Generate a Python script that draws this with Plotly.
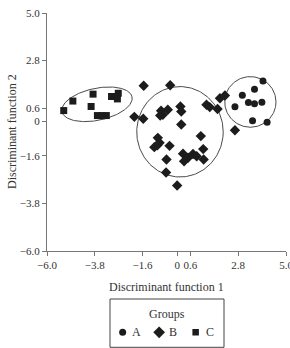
import numpy as np
import plotly.graph_objects as go

# ---- data ----
groupA_x = [3.94, 3.55, 2.99, 3.27, 3.55, 3.89, 2.65, 3.46, 4.13]
groupA_y = [1.86, 1.48, 1.20, 0.86, 0.80, 0.87, 0.67, 0.02, -0.05]

groupB_x = [-1.55, -0.33, -1.98, -1.57, -0.75, -0.44, -0.67, -0.79, 0.14, 0.18,
            0.18, 1.34, 1.49, 1.85, 1.96, 2.19, 2.65, 1.08, -0.90, -0.82,
            -1.06, -0.92, -0.36, -0.50, 0.26, 0.49, 0.72, 0.89, 1.19, 1.21,
            0.31, -0.52, -0.01]
groupB_y = [1.64, 1.66, 0.20, 0.11, 0.48, 0.53, 0.30, 0.26, 0.68, 0.45,
            -0.15, 0.76, 0.65, 0.56, 1.06, 1.19, -0.42, -0.69, -0.77, -1.00,
            -1.20, -1.11, -1.14, -1.77, -1.50, -1.69, -1.52, -1.62, -1.29, -1.77,
            -1.85, -2.37, -2.97]

groupC_x = [-5.23, -4.81, -3.88, -3.97, -3.68, -3.48, -3.27, -3.03, -2.72, -2.76]
groupC_y = [0.49, 0.93, 1.25, 0.68, 0.26, 0.26, 0.26, 1.14, 1.29, 1.03]

group_names = ["A", "B", "C"]
legend_title = "Groups"
x_title = "Discriminant function 1"
y_title = "Discriminant function 2"

# ellipses drawn around groups: centre x, centre y, semi-axis x, semi-axis y, tilt (deg)
ell_cx = [3.36, 0.12, -3.70]
ell_cy = [0.89, -0.49, 0.78]
ell_ax = [1.18, 1.99, 1.65]
ell_ay = [1.17, 2.09, 0.74]
ell_rot = [0, 0, 12]

tick_vals = [-6.0, -3.8, -1.6, 0, 0.6, 2.8, 5.0]
tick_text = ["\u22126.0", "\u22123.8", "\u22121.6", "0", "0.6", "2.8", "5.0"]

FONT = "Liberation Serif, Times New Roman, serif"
MK = "#1c1c1c"
TXT = "#333333"

W, H = 290, 348
ML, MR, MT, MB = 47, 4, 13, 0
PW, PH = W - ML - MR, H - MT - MB
AXIS_BOTTOM = 251  # pixel row of the x axis


def px_x(p):  # pixel x -> paper fraction
    return (p - ML) / PW


def px_y(p):  # pixel y -> paper fraction
    return (H - MB - p) / PH


fig = go.Figure()

# ellipses
t = np.linspace(0, 2 * np.pi, 200)
for cx, cy, ax, ay, rot in zip(ell_cx, ell_cy, ell_ax, ell_ay, ell_rot):
    r = np.deg2rad(rot)
    ex = cx + ax * np.cos(t) * np.cos(r) - ay * np.sin(t) * np.sin(r)
    ey = cy + ax * np.cos(t) * np.sin(r) + ay * np.sin(t) * np.cos(r)
    fig.add_trace(go.Scatter(x=ex, y=ey, mode="lines",
                             line=dict(color="#4a4a4a", width=1),
                             showlegend=False, hoverinfo="skip"))

symbols = ["circle", "diamond", "square"]
sizes = [7, 8, 7]
leg_sizes = [7, 9, 6.5]
annotations = []
for name, xs, ys, sym, sz, lsz in zip(group_names,
                                      [groupA_x, groupB_x, groupC_x],
                                      [groupA_y, groupB_y, groupC_y],
                                      symbols, sizes, leg_sizes):
    fig.add_trace(go.Scatter(x=xs, y=ys, mode="markers", name=name,
                             marker=dict(symbol=sym, size=sz, color=MK),
                             showlegend=False))
    # legend key (drawn on a small helper axis pair)
    fig.add_trace(go.Scatter(x=[name], y=[legend_title], mode="markers",
                             marker=dict(symbol=sym, size=lsz, color=MK),
                             xaxis="x2", yaxis="y2", showlegend=False,
                             hoverinfo="skip"))
    annotations.append(dict(text=name, xref="x2", yref="y2", x=name, y=legend_title,
                            xshift=14, xanchor="center", yanchor="middle",
                            showarrow=False,
                            font=dict(family=FONT, size=12, color=TXT)))

annotations += [
    dict(text=legend_title, xref="paper", yref="paper",
         x=px_x(167), y=px_y(314.3), xanchor="center", yanchor="middle",
         showarrow=False, font=dict(family=FONT, size=12, color=TXT)),
    dict(text=x_title, xref="paper", yref="paper",
         x=0.5, y=px_y(286.7), xanchor="center", yanchor="middle",
         showarrow=False, font=dict(family=FONT, size=12, color=TXT)),
    dict(text=y_title, xref="paper", yref="paper", textangle=-90,
         x=px_x(12), y=px_y(132), xanchor="center", yanchor="middle",
         showarrow=False, font=dict(family=FONT, size=12, color=TXT)),
]

axis_common = dict(
    range=[-6.0, 5.0], tickmode="array", tickvals=tick_vals, ticktext=tick_text,
    showgrid=False, zeroline=False, showline=True, linecolor="#777777",
    linewidth=1, ticks="outside", ticklen=4, tickcolor="#777777",
    tickfont=dict(family=FONT, size=11, color=TXT),
    ticklabeloverflow="allow", automargin=False,
)

fig.update_layout(
    width=W, height=H,
    margin=dict(l=ML, r=MR, t=MT, b=MB),
    paper_bgcolor="white", plot_bgcolor="white",
    font=dict(family=FONT, size=11, color=TXT),
    xaxis=dict(**axis_common, anchor="y"),
    yaxis=dict(**axis_common, anchor="x", domain=[px_y(AXIS_BOTTOM), 1]),
    xaxis2=dict(domain=[px_x(104.4), px_x(213.9)], anchor="y2",
                type="category", categoryorder="array",
                categoryarray=group_names, range=[-0.5, 2.5],
                visible=False, fixedrange=True, automargin=False),
    yaxis2=dict(domain=[px_y(342.3), px_y(322.3)], anchor="x2",
                type="category", visible=False, fixedrange=True,
                automargin=False),
    showlegend=False,
    shapes=[dict(type="rect", xref="paper", yref="paper",
                 x0=px_x(110), x1=px_x(224), y0=px_y(347.3), y1=px_y(299),
                 line=dict(color="#444444", width=1), fillcolor="rgba(0,0,0,0)")],
    annotations=annotations,
)

fig.write_html("out.html")
